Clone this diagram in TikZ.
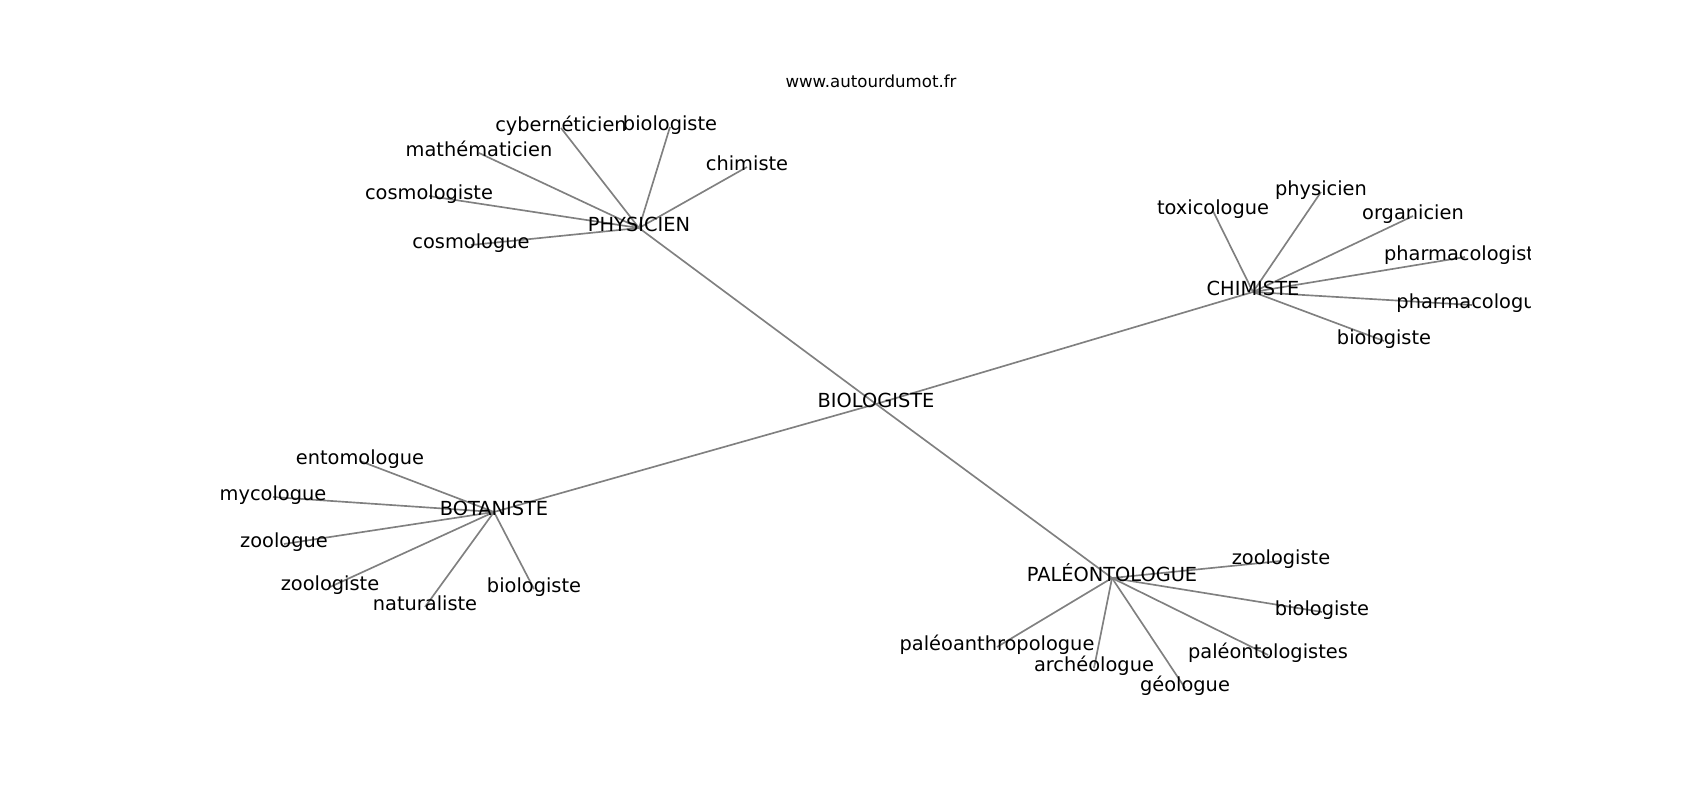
\documentclass[tikz,border=0pt]{standalone}
\usepackage{fontspec}
\setmainfont{DejaVu Sans}
\usetikzlibrary{backgrounds}

\begin{document}
\begin{tikzpicture}[x=0.01in,y=-0.01in,every node/.style={font=\fontsize{14}{17}\selectfont,inner sep=0pt,anchor=center,text height=0.76em,text depth=0.3em},lien/.style={color=gray,line width=1.2pt}]

  \useasboundingbox (0,0) rectangle (1700,800);
  \node[font=\fontsize{12}{14}\selectfont] (titre) at (871,84) {www.autourdumot.fr};

  % Specification of nodes (position, etc.)
  \begin{scope}
  \clip (212,96) rectangle (1530,712);
  \node (bio) at (876,404) {BIOLOGISTE};
  \node (phy) at (639,228) {PHYSICIEN};
  \node (chi) at (1253,292) {CHIMISTE};
  \node (bot) at (494,512) {BOTANISTE};
  \node (pal) at (1112,578) {PALÉONTOLOGUE};

  \node (phy1) at (561,128) {cybernéticien};
  \node (phy2) at (670,127) {biologiste};
  \node (phy3) at (479,153) {mathématicien};
  \node (phy4) at (747,167) {chimiste};
  \node (phy5) at (429,196) {cosmologiste};
  \node (phy6) at (471,245) {cosmologue};

  \node (chi1) at (1213,211) {toxicologue};
  \node (chi2) at (1321,192) {physicien};
  \node (chi3) at (1413,216) {organicien};
  \node (chi4) at (1465,257) {pharmacologiste};
  \node (chi5) at (1472,305) {pharmacologue};
  \node (chi6) at (1384,341) {biologiste};

  \node (bot1) at (360,461) {entomologue};
  \node (bot2) at (273,497) {mycologue};
  \node (bot3) at (284,544) {zoologue};
  \node (bot4) at (330,587) {zoologiste};
  \node (bot5) at (425,607) {naturaliste};
  \node (bot6) at (534,589) {biologiste};

  \node (pal1) at (1281,561) {zoologiste};
  \node (pal2) at (1322,612) {biologiste};
  \node (pal3) at (1268,655) {paléontologistes};
  \node (pal4) at (1185,688) {géologue};
  \node (pal5) at (1094,668) {archéologue};
  \node (pal6) at (997,647) {paléoanthropologue};
  \end{scope}

  \begin{scope}[on background layer]
    \draw[lien] (bio.center) to (phy.center);
    \draw[lien] (bio.center) to (chi.center);
    \draw[lien] (bio.center) to (bot.center);
    \draw[lien] (bio.center) to (pal.center);

    \draw[lien] (phy.center) to (phy1.center);
    \draw[lien] (phy.center) to (phy2.center);
    \draw[lien] (phy.center) to (phy3.center);
    \draw[lien] (phy.center) to (phy4.center);
    \draw[lien] (phy.center) to (phy5.center);
    \draw[lien] (phy.center) to (phy6.center);

    \draw[lien] (chi.center) to (chi1.center);
    \draw[lien] (chi.center) to (chi2.center);
    \draw[lien] (chi.center) to (chi3.center);
    \draw[lien] (chi.center) to (chi4.center);
    \draw[lien] (chi.center) to (chi5.center);
    \draw[lien] (chi.center) to (chi6.center);

    \draw[lien] (bot.center) to (bot1.center);
    \draw[lien] (bot.center) to (bot2.center);
    \draw[lien] (bot.center) to (bot3.center);
    \draw[lien] (bot.center) to (bot4.center);
    \draw[lien] (bot.center) to (bot5.center);
    \draw[lien] (bot.center) to (bot6.center);

    \draw[lien] (pal.center) to (pal1.center);
    \draw[lien] (pal.center) to (pal2.center);
    \draw[lien] (pal.center) to (pal3.center);
    \draw[lien] (pal.center) to (pal4.center);
    \draw[lien] (pal.center) to (pal5.center);
    \draw[lien] (pal.center) to (pal6.center);
  \end{scope}

\end{tikzpicture}
\end{document}
